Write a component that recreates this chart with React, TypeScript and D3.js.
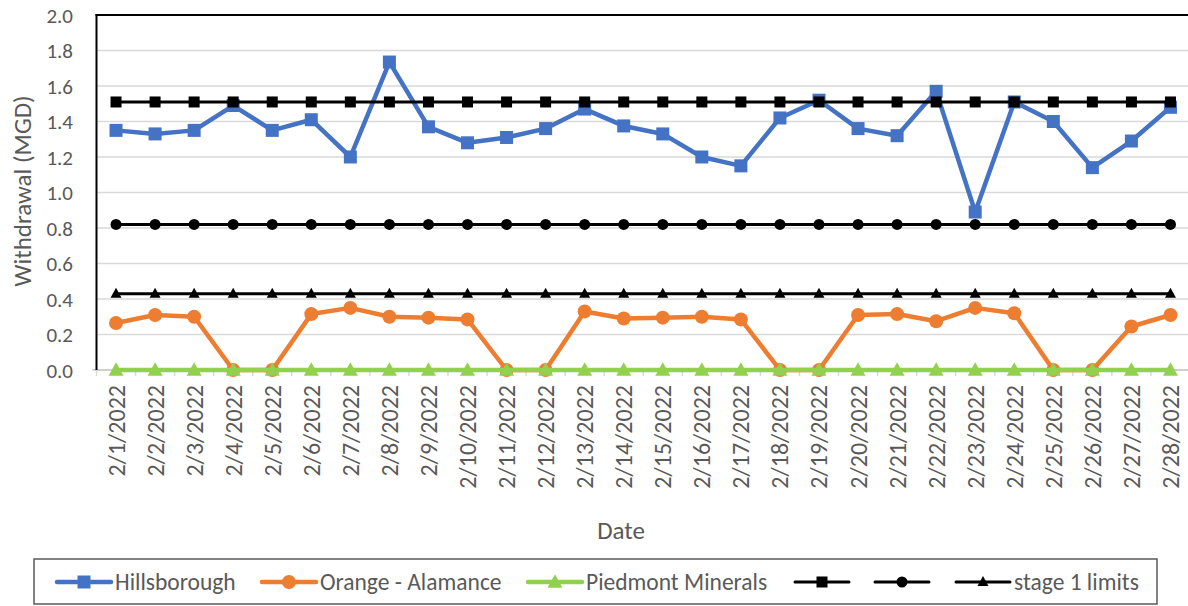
import * as d3 from "d3";

// dates on the x axis
const dates = Array.from({ length: 28 }, (_, i) => `2/${i + 1}/2022`);

// daily withdrawal values (MGD)
const hillsborough = [
  1.35, 1.33, 1.35, 1.49, 1.35, 1.41, 1.2, 1.735, 1.37, 1.28, 1.31, 1.36, 1.47, 1.375,
  1.33, 1.2, 1.15, 1.42, 1.52, 1.36, 1.32, 1.57, 0.89, 1.51, 1.4, 1.14, 1.29, 1.48,
];
const orangeAlamance = [
  0.265, 0.31, 0.3, 0, 0, 0.315, 0.35, 0.3, 0.295, 0.285, 0, 0, 0.33, 0.29,
  0.295, 0.3, 0.285, 0, 0, 0.31, 0.315, 0.275, 0.35, 0.32, 0, 0, 0.245, 0.31,
];
const piedmontMinerals = dates.map(() => 0);
const limitUpper = dates.map(() => 1.51);
const limitMiddle = dates.map(() => 0.82);
const stage1Limits = dates.map(() => 0.43);

const yTicks = [0, 0.2, 0.4, 0.6, 0.8, 1.0, 1.2, 1.4, 1.6, 1.8, 2.0];

type Marker = "square" | "circle" | "triangle";

interface Series {
  name: string;
  values: number[];
  color: string;
  lineWidth: number;
  marker: Marker;
  size: number;
}

const series: Series[] = [
  { name: "Hillsborough", values: hillsborough, color: "#4472C4", lineWidth: 4.5, marker: "square", size: 13 },
  { name: "Orange - Alamance", values: orangeAlamance, color: "#ED7D31", lineWidth: 4.5, marker: "circle", size: 14 },
  { name: "Piedmont Minerals", values: piedmontMinerals, color: "#92D050", lineWidth: 4.5, marker: "triangle", size: 15 },
  { name: "", values: limitUpper, color: "#000000", lineWidth: 3, marker: "square", size: 11 },
  { name: "", values: limitMiddle, color: "#000000", lineWidth: 3, marker: "circle", size: 11 },
  { name: "stage 1 limits", values: stage1Limits, color: "#000000", lineWidth: 3, marker: "triangle", size: 11 },
];

const FONT = "Carlito, Calibri, Lato, 'Open Sans', sans-serif";
const TEXT = "#595959";

const W = 1188;
const H = 606;
const plot = { left: 96.5, right: 1190, top: 15, bottom: 370 };

function MarkerShape({ type, x, y, size, color }: { type: Marker; x: number; y: number; size: number; color: string }) {
  if (type === "square") {
    return <rect x={x - size / 2} y={y - size / 2} width={size} height={size} fill={color} />;
  }
  if (type === "circle") {
    return <circle cx={x} cy={y} r={size / 2} fill={color} />;
  }
  const h = size * 0.9;
  return (
    <path
      d={`M${x},${y - h / 2 - 1}L${x + size / 2},${y + h / 2 - 1}L${x - size / 2},${y + h / 2 - 1}Z`}
      fill={color}
    />
  );
}

export default function App() {
  const x = d3.scalePoint<string>().domain(dates).range([plot.left, plot.right]).padding(0.5);
  const y = d3.scaleLinear().domain([0, 2]).range([plot.bottom, plot.top]);
  const step = x.step();

  const line = d3
    .line<number>()
    .x((_, i) => x(dates[i]) as number)
    .y((d) => y(d));

  // legend entries (x of line start)
  const legendX = [57, 262, 528, 795, 875, 956];
  const legendY = 582;

  return (
    <svg
      width={W}
      height={H}
      style={{ position: "absolute", left: 0, top: 0, background: "#fff" }}
      fontFamily={FONT}
    >
      {/* grid lines */}
      {yTicks.slice(1, -1).map((t) => (
        <line key={t} x1={plot.left} x2={W} y1={y(t)} y2={y(t)} stroke="#D9D9D9" strokeWidth={1.5} />
      ))}
      {/* top border */}
      <line x1={plot.left - 1} x2={W} y1={y(2)} y2={y(2)} stroke="#000" strokeWidth={2} />

      {/* x axis */}
      <line x1={plot.left - 4} x2={W} y1={plot.bottom} y2={plot.bottom} stroke="#BFBFBF" strokeWidth={1.5} />
      {dates.map((d, i) => {
        const bx = plot.left + i * step;
        return <line key={d} x1={bx} x2={bx} y1={plot.bottom} y2={plot.bottom + 6} stroke="#D9D9D9" strokeWidth={1.5} />;
      })}
      {/* left axis */}
      <line x1={plot.left} x2={plot.left} y1={plot.top - 1} y2={plot.bottom} stroke="#000" strokeWidth={2} />

      {/* y tick labels */}
      {yTicks.map((t) => (
        <text key={t} x={73} y={y(t)} dy="0.36em" textAnchor="end" fontSize={21} fill={TEXT}>
          {t.toFixed(1)}
        </text>
      ))}

      {/* x tick labels */}
      {dates.map((d) => (
        <text
          key={d}
          transform={`translate(${(x(d) as number) + 8.5},${plot.bottom + 15}) rotate(-90)`}
          textAnchor="end"
          fontSize={24}
          fill={TEXT}
        >
          {d}
        </text>
      ))}

      {/* axis titles */}
      <text transform={`translate(31,191) rotate(-90)`} textAnchor="middle" fontSize={25} fill={TEXT}>
        Withdrawal (MGD)
      </text>
      <text x={621} y={539} textAnchor="middle" fontSize={25} fill={TEXT}>
        Date
      </text>

      {/* series */}
      {series.map((s, si) => (
        <g key={si}>
          <path d={line(s.values) ?? ""} fill="none" stroke={s.color} strokeWidth={s.lineWidth} strokeLinejoin="round" />
          {s.values.map((v, i) => (
            <MarkerShape key={i} type={s.marker} x={x(dates[i]) as number} y={y(v)} size={s.size} color={s.color} />
          ))}
        </g>
      ))}

      {/* legend */}
      <rect x={34} y={559} width={1123} height={45} fill="#fff" stroke="#595959" strokeWidth={1.5} />
      {series.map((s, i) => {
        const lx = legendX[i];
        return (
          <g key={i}>
            <line x1={lx} x2={lx + 54} y1={legendY} y2={legendY} stroke={s.color} strokeWidth={s.lineWidth} strokeLinecap="round" />
            <MarkerShape type={s.marker} x={lx + 27} y={legendY} size={s.size} color={s.color} />
            {s.name && (
              <text x={lx + 58} y={legendY} dy="0.36em" fontSize={23.5} fill={TEXT}>
                {s.name}
              </text>
            )}
          </g>
        );
      })}
    </svg>
  );
}
